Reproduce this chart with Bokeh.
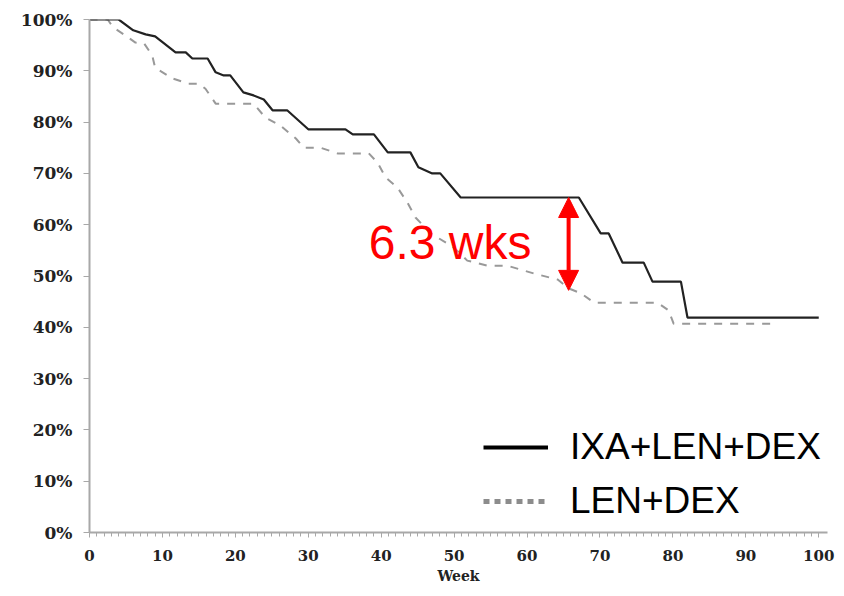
from bokeh.plotting import figure
from bokeh.models import (Range1d, Legend, LegendItem, Label, Arrow, NormalHead,
                          FixedTicker, PrintfTickFormatter, ColumnDataSource)
from bokeh.embed import file_html
from bokeh.resources import INLINE

# ---- data ----
ixa_week = [0, 4, 6, 7.7, 9, 11.8, 13.2, 14.1, 16.2, 17.3, 18.4, 19.3, 21.1, 22.5, 23.9,
            25.1, 27.1, 30, 35.1, 36.1, 39, 40.9, 44, 45.1, 47, 48.1, 50.9, 67.1, 70.1,
            71.2, 73.1, 76, 77.2, 81.1, 82, 100]
ixa_surv = [100, 100, 97.9, 97.1, 96.7, 93.6, 93.6, 92.4, 92.4, 89.7, 89.1, 89.1, 85.8,
            85.2, 84.4, 82.3, 82.3, 78.6, 78.6, 77.6, 77.6, 74.1, 74.1, 71.2, 70, 70, 65.3,
            65.3, 58.3, 58.3, 52.6, 52.6, 48.9, 48.9, 41.9, 41.9]

len_week = [0, 2.5, 3.2, 4.9, 6.3, 7.5, 8.6, 9, 11.4, 13.6, 15, 15.9, 17.3, 22.5, 24.1,
            26.2, 28.3, 29.4, 31.7, 34, 38.3, 39.5, 40.6, 42.2, 43.6, 44.7, 46.8, 49.9,
            51.8, 54.6, 57.3, 60.9, 64.2, 65.7, 67.4, 69.2, 77.9, 79.4, 80.1, 93.8]
len_surv = [100, 100, 98.5, 96.9, 95.5, 95.3, 93, 90.6, 88.5, 87.5, 87.5, 86.5, 83.6, 83.6,
            80.9, 79.3, 76.8, 75, 75, 73.9, 73.9, 72.1, 69.2, 67.3, 64.3, 61.4, 58.3, 55.6,
            53, 52, 52, 50.5, 49.3, 47.6, 46.6, 44.8, 44.8, 43.3, 40.7, 40.7]

series_labels = ["IXA+LEN+DEX", "LEN+DEX"]
x_ticks = [0, 10, 20, 30, 40, 50, 60, 70, 80, 90, 100]
y_ticks = [0, 10, 20, 30, 40, 50, 60, 70, 80, 90, 100]
gap_label = "6.3 wks"
gap_week = 65.7
gap_top = 65.3
gap_bottom = 47.2

# ---- figure ----
p = figure(width=844, height=596, output_backend="svg", toolbar_location=None,
           x_range=Range1d(0, 101.2), y_range=Range1d(0, 100),
           min_border_left=89, min_border_right=17, min_border_top=19, min_border_bottom=64)
p.outline_line_color = None
p.xgrid.grid_line_color = None
p.ygrid.grid_line_color = None
p.background_fill_color = "white"
p.border_fill_color = "white"

tick_font = "DejaVu Serif"
for ax in (p.xaxis[0], p.yaxis[0]):
    ax.axis_line_color = "#a8a8a8"
    ax.axis_line_width = 2
    ax.major_tick_line_color = "#a8a8a8"
    ax.major_tick_line_width = 1
    ax.minor_tick_line_color = "#a8a8a8"
    ax.major_label_text_font = tick_font
    ax.major_label_text_font_style = "bold"
    ax.major_label_text_font_size = "15px"
    ax.major_label_text_color = "#222222"

p.xaxis.ticker = FixedTicker(ticks=x_ticks, minor_ticks=list(range(0, 101)))
p.xaxis.major_tick_in = 0
p.xaxis.major_tick_out = 5
p.xaxis.minor_tick_in = 0
p.xaxis.minor_tick_out = 4
p.xaxis.major_label_standoff = 12
p.xaxis.axis_label = "Week"
p.xaxis.axis_label_text_font = tick_font
p.xaxis.axis_label_text_font_style = "bold"
p.xaxis.axis_label_text_font_size = "14px"
p.xaxis.axis_label_text_color = "#222222"
p.xaxis.axis_label_standoff = 4

p.yaxis.ticker = FixedTicker(ticks=y_ticks, minor_ticks=[])
p.yaxis.formatter = PrintfTickFormatter(format="%d%%")
p.yaxis.major_label_text_font_size = "17px"
p.yaxis.major_tick_in = 0
p.yaxis.major_tick_out = 6
p.yaxis.minor_tick_line_color = None
p.yaxis.major_label_standoff = 11

src_ixa = ColumnDataSource(dict(x=ixa_week, y=ixa_surv))
src_len = ColumnDataSource(dict(x=len_week, y=len_surv))

p.line("x", "y", source=src_len, line_color="#999999", line_width=2, line_dash="8 8")
p.line("x", "y", source=src_ixa, line_color="#222222", line_width=2.2)

# legend proxies (one NaN point each, nothing visible on the plot)
nan = float("nan")
r_leg1 = p.line([nan], [nan], line_color="#000000", line_width=4)
r_leg2 = p.line([nan], [nan], line_color="#8c8c8c", line_width=5, line_dash="6 5")
legend = Legend(items=[LegendItem(label=series_labels[0], renderers=[r_leg1]),
                       LegendItem(label=series_labels[1], renderers=[r_leg2])],
                location=(394, 10), orientation="vertical",
                glyph_width=65, glyph_height=40, label_height=40, label_standoff=22,
                spacing=12, padding=0, margin=0,
                label_text_font="Liberation Sans", label_text_font_size="37px",
                label_text_color="#000000", label_text_baseline="middle",
                border_line_color=None, background_fill_alpha=0)
p.add_layout(legend, "center")

# gap annotation
p.add_layout(Arrow(x_start=gap_week, y_start=gap_bottom, x_end=gap_week, y_end=gap_top,
                   line_color="red", line_width=4,
                   start=NormalHead(size=20, fill_color="red", line_color="red"),
                   end=NormalHead(size=20, fill_color="red", line_color="red")))
p.add_layout(Label(x=38.3, y=56.6, text=gap_label, text_color="red",
                   text_font="Liberation Sans", text_font_size="48px",
                   text_baseline="alphabetic", text_align="left"))

open("out.html", "w").write(file_html(p, INLINE))
